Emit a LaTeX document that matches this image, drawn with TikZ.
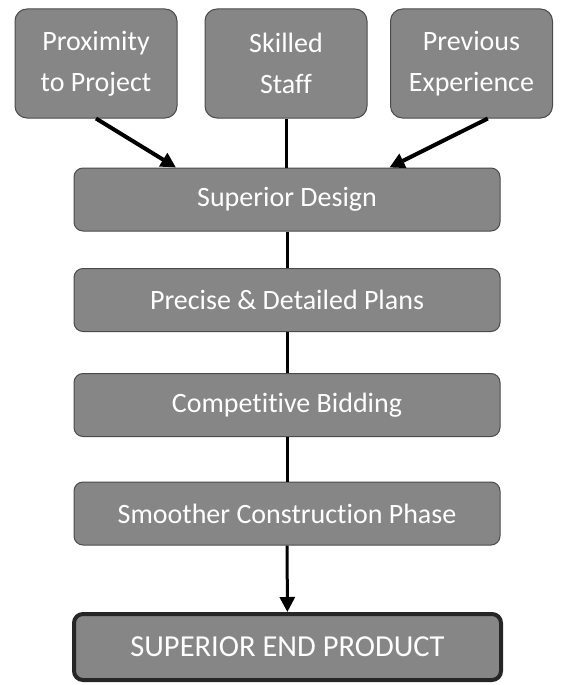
\documentclass[tikz,border=0pt]{standalone}
\usepackage{fontspec}
\setmainfont{Carlito}[Ligatures={NoCommon,NoDiscretionary}]
\usetikzlibrary{arrows.meta,calc}
\definecolor{boxgray}{RGB}{134,134,134}
\definecolor{edgegray}{RGB}{75,75,75}
\tikzset{
	factor/.style={draw=edgegray, line width=1pt, fill=boxgray, rounded corners=12pt, text=white, align=center, minimum width=162pt, minimum height=109pt, inner sep=0pt, font=\fontsize{28}{41}\selectfont},
	stage/.style={draw=edgegray, line width=1pt, fill=boxgray, rounded corners=9pt, text=white, minimum width=426pt, minimum height=63pt, inner sep=0pt, font=\fontsize{28}{33}\selectfont},
	result/.style={stage, draw=black!85, line width=4pt, minimum width=427pt, minimum height=66pt, font=\fontsize{30.5}{36}\selectfont},
	link/.style={line width=3pt},
	feed/.style={line width=4pt, -{Triangle[length=15pt,width=15pt]}}
}
\begin{document}
\begin{tikzpicture}[x=1pt,y=-1pt]
				\useasboundingbox (0,0) rectangle (563,685);
				% three inputs
				\node[factor] (prox) at (96,63.5) {Proximity\\to Project};
				\node[factor] (staff) at (286,63.5) {Skilled\\Staff};
				\node[factor] (prev) at (471.5,63.5) {Previous\\Experience};
				
				% chain of stages
				\node[stage] (design) at (287,199.5) {Superior Design};
				\node[stage] (plans) at (287,300) {Precise \& Detailed Plans};
				\node[stage] (bidding) at (287,405) {Competitive Bidding};
				\node[stage] (smooth) at (287,513.5) {Smoother Construction Phase};
				\node[result] (product) at (287.5,647) {SUPERIOR END PRODUCT};
				
				\draw[feed] (prox.south) -- ($(design.north west)!.24!(design.north east)$);
				\draw[feed] ($(prev.south west)!.6!(prev.south east)$) -- ($(design.north west)!.74!(design.north east)$);
				\draw[link] (staff.south) -- (staff.south |- design.north);
				
				\draw[link] (design) -- (plans);
				\draw[link] (plans) -- (bidding);
				\draw[link] (bidding) -- (smooth);
				\draw[feed, line width=3pt] (smooth) -- (product);
			\end{tikzpicture}
\end{document}
